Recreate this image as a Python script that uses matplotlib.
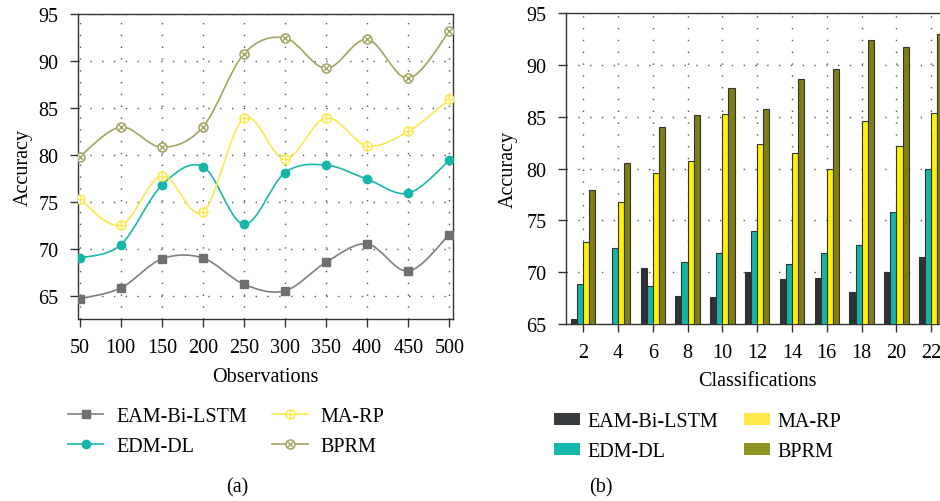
import numpy as np
import matplotlib
matplotlib.use("Agg")
import matplotlib.pyplot as plt
from matplotlib.path import Path
from matplotlib.patches import PathPatch, Patch
from matplotlib.lines import Line2D

plt.rcParams['font.family'] = ['Liberation Serif', 'DejaVu Serif']
plt.rcParams['font.size'] = 14.5

# ---- data (a): accuracy vs observations
observations = [50, 100, 150, 200, 250, 300, 350, 400, 450, 500]
acc_eam = [64.65, 65.8, 68.9, 69.0, 66.2, 65.5, 68.55, 70.5, 67.6, 71.5]
acc_edm = [69.0, 70.4, 76.75, 78.75, 72.6, 78.1, 78.9, 77.4, 75.9, 79.4]
acc_marp = [75.3, 72.5, 77.75, 73.9, 83.9, 79.55, 83.95, 80.95, 82.5, 85.9]
acc_bprm = [79.8, 82.95, 80.8, 82.95, 90.75, 92.45, 89.2, 92.3, 88.15, 93.15]

# ---- data (b): accuracy vs classifications
classes = [2, 4, 6, 8, 10, 12, 14, 16, 18, 20, 22]
bar_eam = [65.5, 65.0, 70.45, 67.75, 67.6, 70.0, 69.35, 69.4, 68.05, 70.05, 71.5]
bar_edm = [68.85, 72.35, 68.65, 71.0, 71.9, 74.0, 70.75, 71.85, 72.6, 75.8, 79.95]
bar_marp = [72.95, 76.8, 79.55, 80.7, 85.25, 82.4, 81.55, 79.95, 84.6, 82.2, 85.35]
bar_bprm = [77.9, 80.55, 84.0, 85.15, 87.75, 85.75, 88.7, 89.6, 92.4, 91.7, 93.0]

labels = ['EAM-Bi-LSTM', 'EDM-DL', 'MA-RP', 'BPRM']


def smooth_path(x, y):
    """Catmull-Rom curve through the points as cubic Bezier segments"""
    x = np.asarray(x, float)
    y = np.asarray(y, float)
    pts = np.column_stack([x, y])
    ext = np.vstack([pts[0], pts, pts[-1]])
    verts = [pts[0]]
    codes = [Path.MOVETO]
    for i in range(len(pts) - 1):
        p0, p1, p2, p3 = ext[i], ext[i + 1], ext[i + 2], ext[i + 3]
        c1 = p1 + (p2 - p0) / 6.0
        c2 = p2 - (p3 - p1) / 6.0
        verts += [c1, c2, p2]
        codes += [Path.CURVE4] * 3
    return Path(verts, codes)


fig = plt.figure(figsize=(9.4, 5.02), dpi=100)

grid_kw = dict(color='#555555', linestyle=(0, (1, 7.5)), linewidth=1.0)
spine_c = '#333333'

# ---------------- (a) line chart
ax1 = fig.add_axes([78 / 940, 1 - 320 / 502, 375 / 940, 305 / 502])
series = [
    (acc_eam, '#7f7f7f', dict(marker='s', color='#707070', ms=5.5, mfc='#707070', mec='#707070')),
    (acc_edm, '#1bb8aa', dict(marker='o', color='#14b6a8', ms=6, mfc='#14b6a8', mec='#14b6a8')),
    (acc_marp, '#fbe94c', None),
    (acc_bprm, '#a3a463', None),
]
handles = []
for (vals, col, mk), lab in zip(series, labels):
    ax1.add_patch(PathPatch(smooth_path(observations, vals), fill=False,
                            edgecolor=col, lw=1.2, zorder=3))
    if mk is not None:
        ax1.plot(observations, vals, ls='none', zorder=4, **mk)
        h = Line2D([], [], color=col, lw=1.2, marker=mk['marker'], ms=mk['ms'],
                   mfc=mk['mfc'], mec=mk['mec'])
    else:
        inner = '+' if lab == 'MA-RP' else 'x'
        ax1.plot(observations, vals, ls='none', marker='o', ms=6.5, mfc='white',
                 mec=col, mew=1.1, zorder=4)
        ax1.plot(observations, vals, ls='none', marker=inner,
                 ms=6.5 if inner == '+' else 4.6, mec=col, mew=1.0, zorder=5)
        h = (Line2D([], [], color=col, lw=1.2, marker='o', ms=6.5, mfc='white', mec=col, mew=1.1),
             Line2D([], [], ls='none', marker=inner, ms=6.5 if inner == '+' else 4.6, mec=col, mew=1.0))
    handles.append(h)

ax1.set_xlim(48, 504.5)
ax1.set_ylim(62.5, 95)
ax1.set_xticks(observations)
ax1.set_yticks([65, 70, 75, 80, 85, 90, 95])
ax1.grid(True, **grid_kw)
ax1.set_axisbelow(True)
ax1.set_xlabel('Observations', labelpad=7)
ax1.set_ylabel('Accuracy', labelpad=4)

fig.legend(handles, labels, ncol=2, frameon=False, loc='upper left',
           bbox_to_anchor=(68 / 940, 1 - 408 / 502), borderpad=0, borderaxespad=0,
           handlelength=1.75, handletextpad=0.65, columnspacing=1.25, labelspacing=0.55)

# ---------------- (b) grouped bars
ax2 = fig.add_axes([565.7 / 940, 1 - 325 / 502, 383 / 940, 310.7 / 502])
bar_colors = ['#2e3436', '#14b5a8', '#fff200', '#7f7e15']
w = 0.35
x = np.array(classes, float)
for i, (vals, col) in enumerate(zip([bar_eam, bar_edm, bar_marp, bar_bprm], bar_colors)):
    ax2.bar(x + (i - 1.5) * w, vals, width=w, color=col, edgecolor='#333333',
            linewidth=0.8, zorder=3)

ax2.set_xlim(1, 23)
ax2.set_ylim(65, 95)
ax2.set_xticks(classes)
ax2.set_yticks([65, 70, 75, 80, 85, 90, 95])
ax2.grid(True, **grid_kw)
ax2.set_axisbelow(True)
ax2.set_xlabel('Classifications', labelpad=6)
ax2.set_ylabel('Accuracy', labelpad=6)
ax2.spines['right'].set_visible(False)

leg_colors = ['#353a3c', '#13b7ac', '#ffe94a', '#8f9420']
patches = [Patch(facecolor=c, edgecolor='none') for c in leg_colors]
fig.legend(patches, labels, ncol=2, frameon=False, loc='upper left',
           bbox_to_anchor=(554 / 940, 1 - 413 / 502), borderpad=0, borderaxespad=0,
           handlelength=1.3, handleheight=0.5, handletextpad=0.35, columnspacing=1.3,
           labelspacing=0.55)

for ax in (ax1, ax2):
    for s in ax.spines.values():
        s.set_color(spine_c)
        s.set_linewidth(1.0)
    ax.tick_params(direction='out', length=6, width=1.0, color=spine_c, pad=8)

fig.text(237 / 940, 1 - 488 / 502, '(a)', ha='center', va='center')
fig.text(601 / 940, 1 - 488 / 502, '(b)', ha='center', va='center')

fig.savefig('out.png', dpi=100)
